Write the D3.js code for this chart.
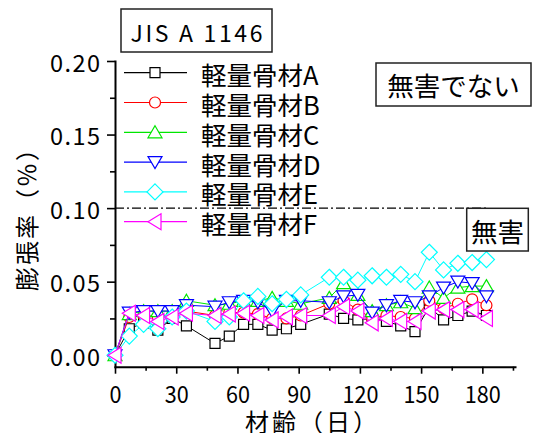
<!DOCTYPE html>
<html><head><meta charset="utf-8">
<script src="https://cdn.jsdelivr.net/npm/d3@7"></script>
<style>
html,body{margin:0;padding:0;background:#fff;}
svg{display:block;}
text{font-family:"Noto Sans CJK JP","Noto Sans",sans-serif;fill:#000;}
</style></head><body>
<svg id="chart" width="533" height="433"></svg>
<script>
// ---- data ----
const days = [0,7,14,21,28,35,49,56,63,70,77,84,91,105,112,119,126,133,140,147,154,161,168,175,182];
const seriesNames = ["軽量骨材A","軽量骨材B","軽量骨材C","軽量骨材D","軽量骨材E","軽量骨材F"];
const seriesA = [0,0.018,0.022,0.017,0.025,0.020,0.008,0.013,0.021,0.021,0.017,0.018,0.021,0.028,0.025,0.024,0.025,0.023,0.020,0.016,0.033,0.024,0.027,0.030,0.027];
const seriesB = [0,0.026,0.027,0.026,0.027,0.030,0.027,0.029,0.029,0.028,0.025,0.025,0.027,0.035,0.037,0.031,0.025,0.027,0.026,0.025,0.037,0.032,0.035,0.038,0.034];
const seriesC = [0,0.028,0.030,0.030,0.030,0.037,0.034,0.035,0.037,0.037,0.039,0.037,0.035,0.039,0.049,0.041,0.030,0.034,0.036,0.032,0.046,0.039,0.046,0.047,0.047];
const seriesD = [0,0.029,0.030,0.030,0.030,0.034,0.033,0.036,0.037,0.036,0.030,0.037,0.037,0.036,0.040,0.041,0.029,0.034,0.037,0.036,0.040,0.046,0.050,0.049,0.040];
const seriesE = [0,0.013,0.021,0.018,0.026,0.030,0.023,0.026,0.037,0.040,0.035,0.038,0.041,0.053,0.053,0.051,0.054,0.053,0.055,0.050,0.070,0.058,0.0625,0.063,0.065];
const seriesF = [0,0.0285,0.027,0.023,0.026,0.0285,0.027,0.028,0.0285,0.027,0.024,0.026,0.027,0.027,0.033,0.030,0.022,0.025,0.023,0.023,0.030,0.031,0.031,0.031,0.025];
const xTicks = [0,30,60,90,120,150,180];
const xMinorTicks = [15,45,75,105,135,165,195];
const yTicks = [0,0.05,0.10,0.15,0.20];
const yMinorTicks = [0.025,0.075,0.125,0.175];
const yTickLabels = ["0.00","0.05","0.10","0.15","0.20"];
const limitValue = 0.10;
const titleText = "JIS A 1146";
const harmfulText = "無害でない";
const harmlessText = "無害";
const xTitle = "材齢（日）";
const yTitle = "膨張率（％）";

// ---- styles ----
const colors = ["#000000","#ff0000","#00e600","#0000ff","#00ffff","#ff00ff"];
const symbols = [
  "M-5,-5H5V5H-5Z",
  "M5.5,0A5.5,5.5 0 1,1 -5.5,0A5.5,5.5 0 1,1 5.5,0Z",
  "M0,-6.5L7,5.5L-7,5.5Z",
  "M-7,-5.5L7,-5.5L0,6.5Z",
  "M0,-8L8,0L0,8L-8,0Z",
  "M-7,0L6,-8L6,8Z"
];
const allSeries = [seriesA,seriesB,seriesC,seriesD,seriesE,seriesF];

const svg = d3.select("#chart");
const x = d3.scaleLinear().domain([0,196]).range([115,515]);
const y = d3.scaleLinear().domain([-0.0078,0.20]).range([366.7,61]);

// limit line
svg.append("line")
  .attr("x1",x(0)).attr("x2",x(182.5))
  .attr("y1",y(limitValue)).attr("y2",y(limitValue))
  .attr("stroke","#000").attr("stroke-width",1.3)
  .attr("stroke-dasharray","9,3,2,3");

// axes
const axisY0 = y.range()[0];
const gxMinor = svg.append("g").attr("transform",`translate(0,${axisY0})`)
  .call(d3.axisBottom(x).tickValues(xMinorTicks).tickSize(4).tickFormat(""));
const gx = svg.append("g").attr("transform",`translate(0,${axisY0})`)
  .call(d3.axisBottom(x).tickValues(xTicks).tickSize(7).tickSizeOuter(0).tickFormat(d3.format("d")));
const gyMinor = svg.append("g").attr("transform",`translate(${x(0)},0)`)
  .call(d3.axisLeft(y).tickValues(yMinorTicks).tickSize(5).tickFormat(""));
const gy = svg.append("g").attr("transform",`translate(${x(0)},0)`)
  .call(d3.axisLeft(y).tickValues(yTicks).tickSize(8).tickSizeOuter(0).tickFormat((d,i)=>yTickLabels[i]));
gxMinor.select(".domain").remove();
gyMinor.select(".domain").remove();
[gx,gy,gxMinor,gyMinor].forEach(g=>{
  g.selectAll(".tick line").attr("stroke","#000").attr("stroke-width",1.6);
  g.select(".domain").attr("stroke","#000").attr("stroke-width",2).attr("stroke-linecap","square");
});
gx.selectAll(".tick text")
  .attr("y",26.5).attr("dy",null).attr("dominant-baseline","central")
  .style("font-family","'Noto Sans CJK JP'").style("font-size","23.5px")
  .attr("fill","#000")
  .attr("textLength",function(){return this.textContent.length*12;})
  .attr("lengthAdjust","spacingAndGlyphs");
gy.selectAll(".tick text")
  .attr("x",-15).attr("dy",null).attr("dominant-baseline","central")
  .style("font-family","'Noto Sans CJK JP'").style("font-size","23.5px")
  .attr("fill","#000")
  .attr("textLength",50).attr("lengthAdjust","spacing");

// series
const line = d3.line().x(d=>x(d[0])).y(d=>y(d[1]));
allSeries.forEach((vals,si)=>{
  const pts = days.map((d,i)=>[d,vals[i]]);
  svg.append("path").attr("d",line(pts)).attr("fill","none")
    .attr("stroke",colors[si]).attr("stroke-width",1);
  svg.append("g").selectAll("path").data(pts).join("path")
    .attr("d",symbols[si])
    .attr("transform",d=>`translate(${x(d[0])},${y(d[1])})`)
    .attr("fill","#fff").attr("stroke",colors[si]).attr("stroke-width",1.2);
});

// legend
const legY0 = 72.7, legStep = 29.8;
seriesNames.forEach((name,i)=>{
  const ly = legY0 + i*legStep;
  const g = svg.append("g");
  g.append("line").attr("x1",124).attr("x2",187).attr("y1",ly).attr("y2",ly)
    .attr("stroke",colors[i]).attr("stroke-width",1.2);
  g.append("path").attr("d",symbols[i]).attr("transform",`translate(155,${ly})`)
    .attr("fill","#fff").attr("stroke",colors[i]).attr("stroke-width",1.2);
  g.append("text").attr("x",201).attr("y",ly+1).attr("dominant-baseline","central")
    .style("font-size","25.5px").text(name);
});

// boxes
function box(x0,y0,w,h,txt,fs,ty,spacing){
  svg.append("rect").attr("x",x0).attr("y",y0).attr("width",w).attr("height",h)
    .attr("fill","#fff").attr("stroke","#222").attr("stroke-width",1.5);
  const t = svg.append("text").attr("x",x0+w/2).attr("y",ty).attr("text-anchor","middle")
    .attr("dominant-baseline","central").style("font-size",fs+"px").text(txt);
  if(spacing) t.attr("textLength",spacing).attr("lengthAdjust","spacing");
}
box(121,9,151,43,titleText,23,31.7,132);
box(376,63,155,43,harmfulText,26.5,84.8,null);
box(466.7,208.3,61.6,42.7,harmlessText,26.5,230,null);

// axis titles
svg.append("text").attr("x",245).attr("y",420).attr("dominant-baseline","central")
  .style("font-size","24px").style("letter-spacing","3px").text(xTitle);
svg.append("text").attr("transform","translate(25,291) rotate(-90)")
  .attr("dominant-baseline","central")
  .style("font-size","24px").style("letter-spacing","2px").text(yTitle);
</script>
</body></html>
